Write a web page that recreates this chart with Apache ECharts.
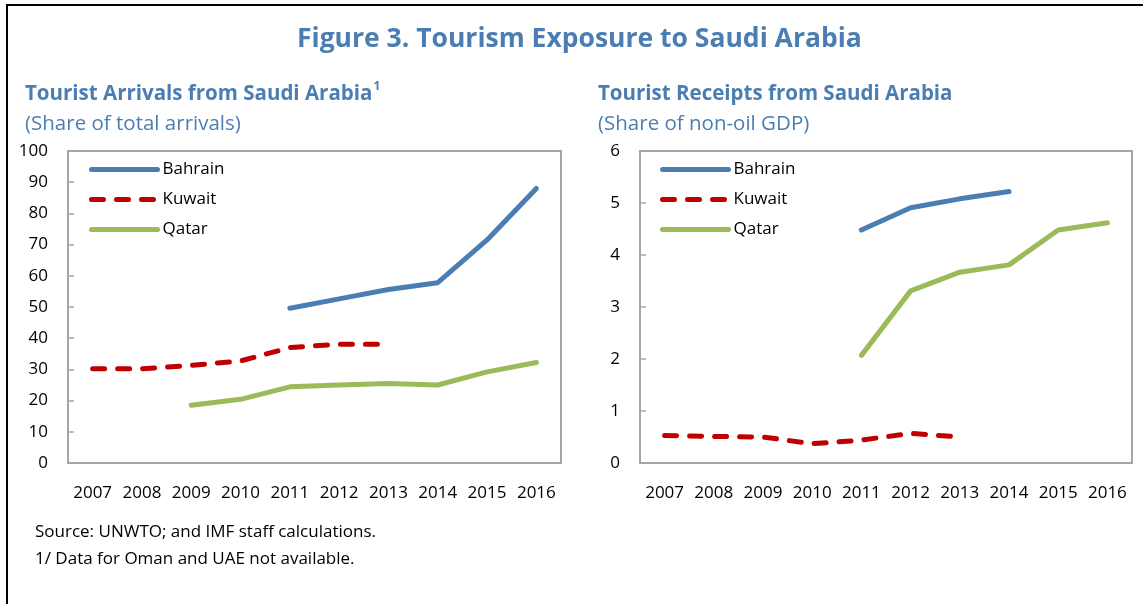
<!DOCTYPE html>
<html>
<head>
<meta charset="utf-8">
<script src="https://cdn.jsdelivr.net/npm/echarts@6/dist/echarts.min.js"></script>
<style>
  html, body { margin: 0; padding: 0; background: #fff; }
  #chart { width: 1143px; height: 604px; }
</style>
</head>
<body>
<div id="chart"></div>
<script>
const years = ['2007', '2008', '2009', '2010', '2011', '2012', '2013', '2014', '2015', '2016'];

// Tourist arrivals (share of total arrivals)
const arrivalsBahrain = [null, null, null, null, 49.6, 52.6, 55.6, 57.8, 71.5, 88.0];
const arrivalsKuwait  = [30.2, 30.2, 31.3, 32.7, 37.0, 38.1, 38.1, null, null, null];
const arrivalsQatar   = [null, null, 18.5, 20.4, 24.4, 25.0, 25.5, 25.0, 29.2, 32.2];

// Tourist receipts (share of non-oil GDP)
const receiptsBahrain = [null, null, null, null, 4.48, 4.91, 5.08, 5.22, null, null];
const receiptsKuwait  = [0.53, 0.51, 0.50, 0.37, 0.44, 0.57, 0.50, null, null, null];
const receiptsQatar   = [null, null, null, null, 2.07, 3.31, 3.67, 3.81, 4.48, 4.62];

const COLORS = {
  bahrain: '#4a7eb3',
  kuwait:  '#c00000',
  qatar:   '#9bbb59',
  frame:   '#a6a6a6',
  heading: '#4a7eb3',
  text:    '#000000',
};

const FONT = '"Open Sans", "Noto Sans", sans-serif';

const chart = echarts.init(document.getElementById('chart'), null, { renderer: 'canvas' });

function xAxis(gridIndex) {
  return {
    type: 'category',
    gridIndex,
    data: years,
    boundaryGap: true,
    axisLine: { lineStyle: { color: COLORS.frame, width: 2 } },
    axisTick: { inside: true, length: 6, lineStyle: { color: COLORS.frame, width: 1.5 } },
    axisLabel: { color: COLORS.text, fontSize: 17, fontFamily: FONT, margin: 22, interval: 0 },
    splitLine: { show: false },
  };
}

function yAxis(gridIndex, max, interval) {
  return {
    type: 'value',
    gridIndex,
    min: 0,
    max,
    interval,
    axisLine: { show: true, lineStyle: { color: COLORS.frame, width: 2 } },
    axisTick: { show: true, inside: true, length: 6, lineStyle: { color: COLORS.frame, width: 1.5 } },
    axisLabel: { color: COLORS.text, fontSize: 17, fontFamily: FONT, margin: 20 },
    splitLine: { show: false },
  };
}

function line(name, data, idx, color, dashed) {
  return {
    name,
    type: 'line',
    xAxisIndex: idx,
    yAxisIndex: idx,
    data,
    symbol: 'none',
    smooth: false,
    connectNulls: false,
    lineStyle: { color, width: 5, type: dashed ? [12, 13] : 'solid', cap: 'round' },
    itemStyle: { color },
  };
}

function legend(left) {
  return {
    orient: 'vertical',
    left,
    top: 156,
    itemWidth: 66,
    itemHeight: 14,
    itemGap: 13,
    selectedMode: false,
    itemStyle: { opacity: 0 },
    lineStyle: { width: 5 },
    textStyle: { color: COLORS.text, fontSize: 17, fontFamily: FONT },
    data: ['Bahrain', 'Kuwait', 'Qatar'],
  };
}

chart.setOption({
  backgroundColor: '#fff',
  animation: false,
  title: [
    {
      text: 'Figure 3. Tourism Exposure to Saudi Arabia',
      left: 297,
      top: 26,
      padding: 0,
      textStyle: { color: COLORS.heading, fontSize: 26.5, fontWeight: 'bold', fontFamily: FONT },
    },
    {
      text: '{a|Tourist Arrivals from Saudi Arabia}{s|1}',
      left: 25,
      top: 81,
      padding: 0,
      textStyle: {
        rich: {
          a: { color: COLORS.heading, fontSize: 20.5, fontWeight: 'bold', fontFamily: FONT, lineHeight: 26 },
          s: { color: COLORS.heading, fontSize: 12, fontWeight: 'bold', fontFamily: FONT, verticalAlign: 'top', lineHeight: 26, padding: [0, 0, 9, 1] },
        },
      },
    },
    {
      text: '(Share of total arrivals)',
      left: 25,
      top: 114,
      padding: 0,
      textStyle: { color: COLORS.heading, fontSize: 20.5, fontWeight: 'normal', fontFamily: FONT },
    },
    {
      text: 'Tourist Receipts from Saudi Arabia',
      left: 598,
      top: 81,
      padding: 0,
      textStyle: { color: COLORS.heading, fontSize: 20.5, fontWeight: 'bold', fontFamily: FONT, lineHeight: 26 },
    },
    {
      text: '(Share of non-oil GDP)',
      left: 598,
      top: 114,
      padding: 0,
      textStyle: { color: COLORS.heading, fontSize: 20.5, fontWeight: 'normal', fontFamily: FONT },
    },
    {
      text: 'Source: UNWTO; and IMF staff calculations.\n1/ Data for Oman and UAE not available.',
      left: 35,
      top: 519,
      padding: 0,
      textStyle: { color: COLORS.text, fontSize: 17, fontWeight: 'normal', fontFamily: FONT, lineHeight: 27 },
    },
  ],
  graphic: [
    { type: 'line', shape: { x1: 6, y1: 5, x2: 1143, y2: 5 }, style: { stroke: '#000', lineWidth: 2 } },
    { type: 'line', shape: { x1: 7, y1: 5, x2: 7, y2: 604 }, style: { stroke: '#000', lineWidth: 2 } },
  ],
  legend: [legend(84), legend(655)],
  grid: [
    { left: 68, width: 493, top: 151, height: 312, show: true, borderColor: COLORS.frame, borderWidth: 2, containLabel: false },
    { left: 640, width: 492, top: 151, height: 312, show: true, borderColor: COLORS.frame, borderWidth: 2, containLabel: false },
  ],
  xAxis: [xAxis(0), xAxis(1)],
  yAxis: [yAxis(0, 100, 10), yAxis(1, 6, 1)],
  series: [
    line('Bahrain', arrivalsBahrain, 0, COLORS.bahrain, false),
    line('Kuwait', arrivalsKuwait, 0, COLORS.kuwait, true),
    line('Qatar', arrivalsQatar, 0, COLORS.qatar, false),
    line('Bahrain', receiptsBahrain, 1, COLORS.bahrain, false),
    line('Kuwait', receiptsKuwait, 1, COLORS.kuwait, true),
    line('Qatar', receiptsQatar, 1, COLORS.qatar, false),
  ],
});
</script>
</body>
</html>
